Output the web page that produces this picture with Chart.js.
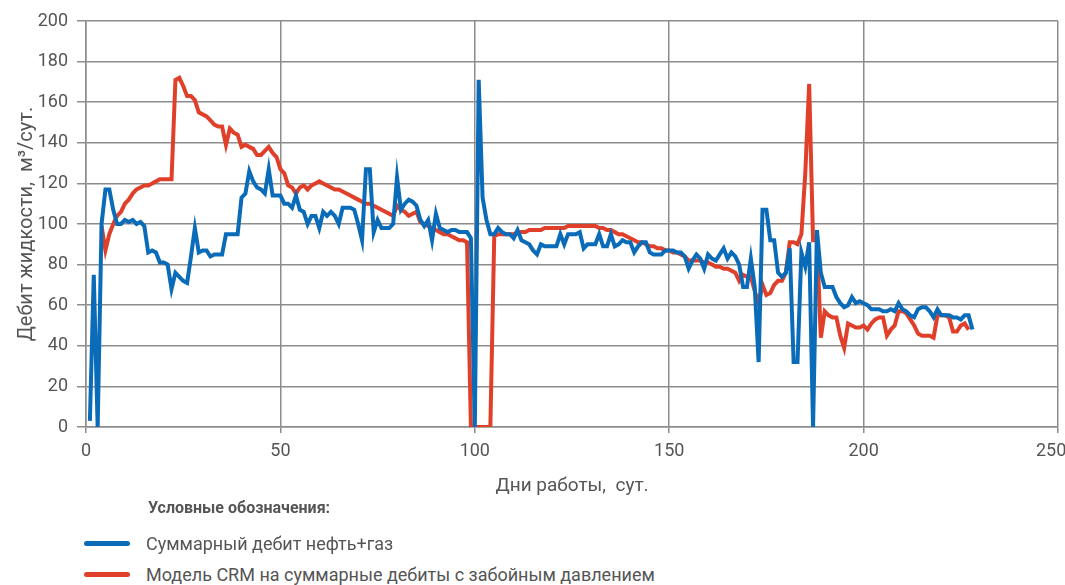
<!DOCTYPE html>
<html>
<head>
<meta charset="utf-8">
<script src="https://cdn.jsdelivr.net/npm/chart.js@4/dist/chart.umd.min.js"></script>
<style>
  body { margin: 0; background: #fff; font-family: Roboto, 'Liberation Sans', sans-serif; }
  #wrap { position: relative; width: 1065px; height: 585px; overflow: hidden; }
  #box { position: absolute; left: 0; top: 0; width: 1065px; height: 500px; }
  .legend-title { position: absolute; left: 148px; top: 498px; font-size: 16px; font-weight: bold; color: #555; }
  .item { position: absolute; left: 84px; font-size: 18px; color: #555; display: flex; align-items: center; }
  .item span.ln { display: inline-block; width: 46px; height: 5px; border-radius: 3px; margin-right: 16px; }
</style>
</head>
<body>
<div id="wrap">
  <div id="box"><canvas id="graphic"></canvas></div>
  <div class="legend-title">Условные обозначения:</div>
  <div class="item" style="top:533px"><span class="ln" style="background:#0a6cb8"></span>Суммарный дебит нефть+газ</div>
  <div class="item" style="top:564px"><span class="ln" style="background:#e0402a"></span>Модель CRM на суммарные дебиты с забойным давлением</div>
</div>
<script>
// ДАННЫЕ
const areaGraphic = document.getElementById('graphic');

const blueDays = [];
for (let d = 1; d <= 228; d++) blueDays.push(d);
const blueRates = [
  3, 75, 0, 100, 117, 117, 107, 100, 100, 102,
  101, 102, 100, 101, 99, 86, 87, 86, 81, 81,
  80, 68, 76, 74, 72, 71, 84, 98, 86, 87,
  87, 84, 85, 85, 85, 95, 95, 95, 95, 113,
  115, 126, 121, 118, 117, 115, 127, 114, 114, 114,
  110, 110, 108, 114, 107, 106, 100, 104, 104, 98,
  106, 104, 106, 104, 100, 108, 108, 108, 107, 100,
  92, 127, 127, 96, 102, 98, 98, 98, 100, 123,
  107, 110, 112, 111, 109, 102, 99, 102, 92, 105,
  98, 97, 96, 97, 97, 96, 96, 96, 93, 0,
  171, 113, 102, 95, 95, 98, 96, 95, 95, 93,
  97, 92, 91, 90, 87, 85, 90, 89, 89, 89,
  89, 95, 90, 95, 95, 95, 96, 88, 90, 90,
  90, 95, 89, 89, 95, 89, 90, 92, 91, 91,
  86, 89, 91, 91, 86, 85, 85, 85, 87, 87,
  87, 86, 86, 84, 78, 82, 85, 83, 78, 85,
  83, 82, 85, 88, 83, 86, 84, 80, 69, 69,
  83, 69, 32, 107, 107, 92, 92, 76, 74, 76,
  88, 32, 32, 86, 79, 91, 0, 97, 76, 69,
  69, 69, 64, 61, 59, 60, 64, 61, 62, 61,
  60, 58, 58, 58, 57, 57, 58, 57, 61, 58,
  57, 55, 54, 58, 59, 59, 57, 54, 58, 55,
  55, 55, 54, 54, 53, 55, 55, 48
];

const redDays = [];
for (let d = 4; d <= 228; d++) redDays.push(d);
const redRates = [
  99, 87, 95, 100, 104, 106, 110, 112, 115, 117,
  118, 119, 119, 120, 121, 122, 122, 122, 122, 171,
  172, 168, 163, 163, 161, 155, 154, 153, 151, 149,
  148, 148, 139, 147, 145, 144, 138, 139, 138, 137,
  134, 134, 136, 138, 135, 133, 127, 125, 119, 118,
  115, 118, 119, 117, 119, 120, 121, 120, 119, 118,
  117, 117, 116, 115, 114, 113, 112, 111, 110, 110,
  109, 108, 107, 106, 105, 104, 109, 107, 106, 104,
  105, 106, 101, 100, 99, 98, 97, 96, 95, 95,
  94, 93, 92, 92, 91, 0, 0, 0, 0, 0,
  0, 94, 95, 95, 95, 95, 95, 96, 96, 96,
  97, 97, 97, 97, 98, 98, 98, 98, 98, 98,
  99, 99, 99, 99, 99, 99, 99, 99, 98, 98,
  97, 97, 96, 95, 95, 94, 93, 92, 91, 91,
  90, 89, 89, 88, 88, 87, 87, 86, 86, 85,
  84, 82, 82, 82, 82, 81, 81, 80, 79, 79,
  78, 78, 77, 76, 72, 75, 74, 74, 67, 61,
  70, 65, 66, 70, 72, 72, 76, 91, 91, 90,
  95, 125, 169, 92, 92, 44, 57, 55, 54, 54,
  45, 39, 51, 50, 49, 49, 50, 48, 51, 53,
  54, 54, 45, 48, 50, 57, 57, 56, 53, 50,
  46, 45, 45, 45, 44, 55, 55, 55, 54, 47,
  47, 50, 51, 48
];

const xTicks = [0, 50, 100, 150, 200, 250];

const toPoints = (days, rates) => days.map((d, i) => ({ x: d, y: rates[i] }));

const data = {
  datasets: [{
    label: 'Суммарный дебит нефть+газ',
    data: toPoints(blueDays, blueRates),
    borderColor: '#0a6cb8',
    borderWidth: 4,
    pointRadius: 0,
    tension: 0
  },
  {
    label: 'Модель CRM на суммарные дебиты с забойным давлением',
    data: toPoints(redDays, redRates),
    borderColor: '#e0402a',
    borderWidth: 4,
    pointRadius: 0,
    tension: 0
  }]
};

const fontFamily = "Roboto, 'Liberation Sans', sans-serif";
const gridColor = '#8c8c8c';

const config = {
  type: 'line',
  data,
  options: {
    responsive: true,
    maintainAspectRatio: false,
    animation: false,
    layout: { padding: { top: 21, right: 7, left: 0, bottom: 0 } },
    plugins: { legend: { display: false }, tooltip: { enabled: false } },
    scales: {
      x: {
        type: 'linear',
        min: 0,
        max: 250,
        afterBuildTicks: (scale) => { scale.ticks = xTicks.map(v => ({ value: v })); },
        afterFit: (scale) => { scale.height = 73; scale.paddingRight = 0; scale.paddingLeft = 0; },
        grid: { color: gridColor, lineWidth: 1.5, tickLength: 6 },
        border: { color: gridColor, width: 1.5 },
        ticks: {
          color: '#555',
          font: { family: fontFamily, size: 18 },
          padding: 8,
          maxRotation: 0,
          // последняя подпись сдвинута влево, как в оригинале
          callback: (value) => value === 250 ? '250\u2007\u2009' : String(value)
        },
        title: { display: true, text: 'Дни работы,  сут.', color: '#555', font: { family: fontFamily, size: 19 }, padding: { top: 4, bottom: 2 } }
      },
      y: {
        min: 0,
        max: 200,
        afterFit: (scale) => { scale.width = 86; scale.paddingTop = 0; scale.paddingBottom = 0; },
        grid: { color: gridColor, lineWidth: 1.5, tickLength: 9 },
        border: { color: gridColor, width: 1.5 },
        ticks: { stepSize: 20, color: '#555', font: { family: fontFamily, size: 18 }, padding: 9 },
        title: { display: true, text: 'Дебит жидкости,  м³/сут.', color: '#555', font: { family: fontFamily, size: 20 }, padding: { top: 15, bottom: 0 } }
      }
    }
  }
};

const myGraphic = new Chart(areaGraphic, config);
</script>
</body>
</html>
